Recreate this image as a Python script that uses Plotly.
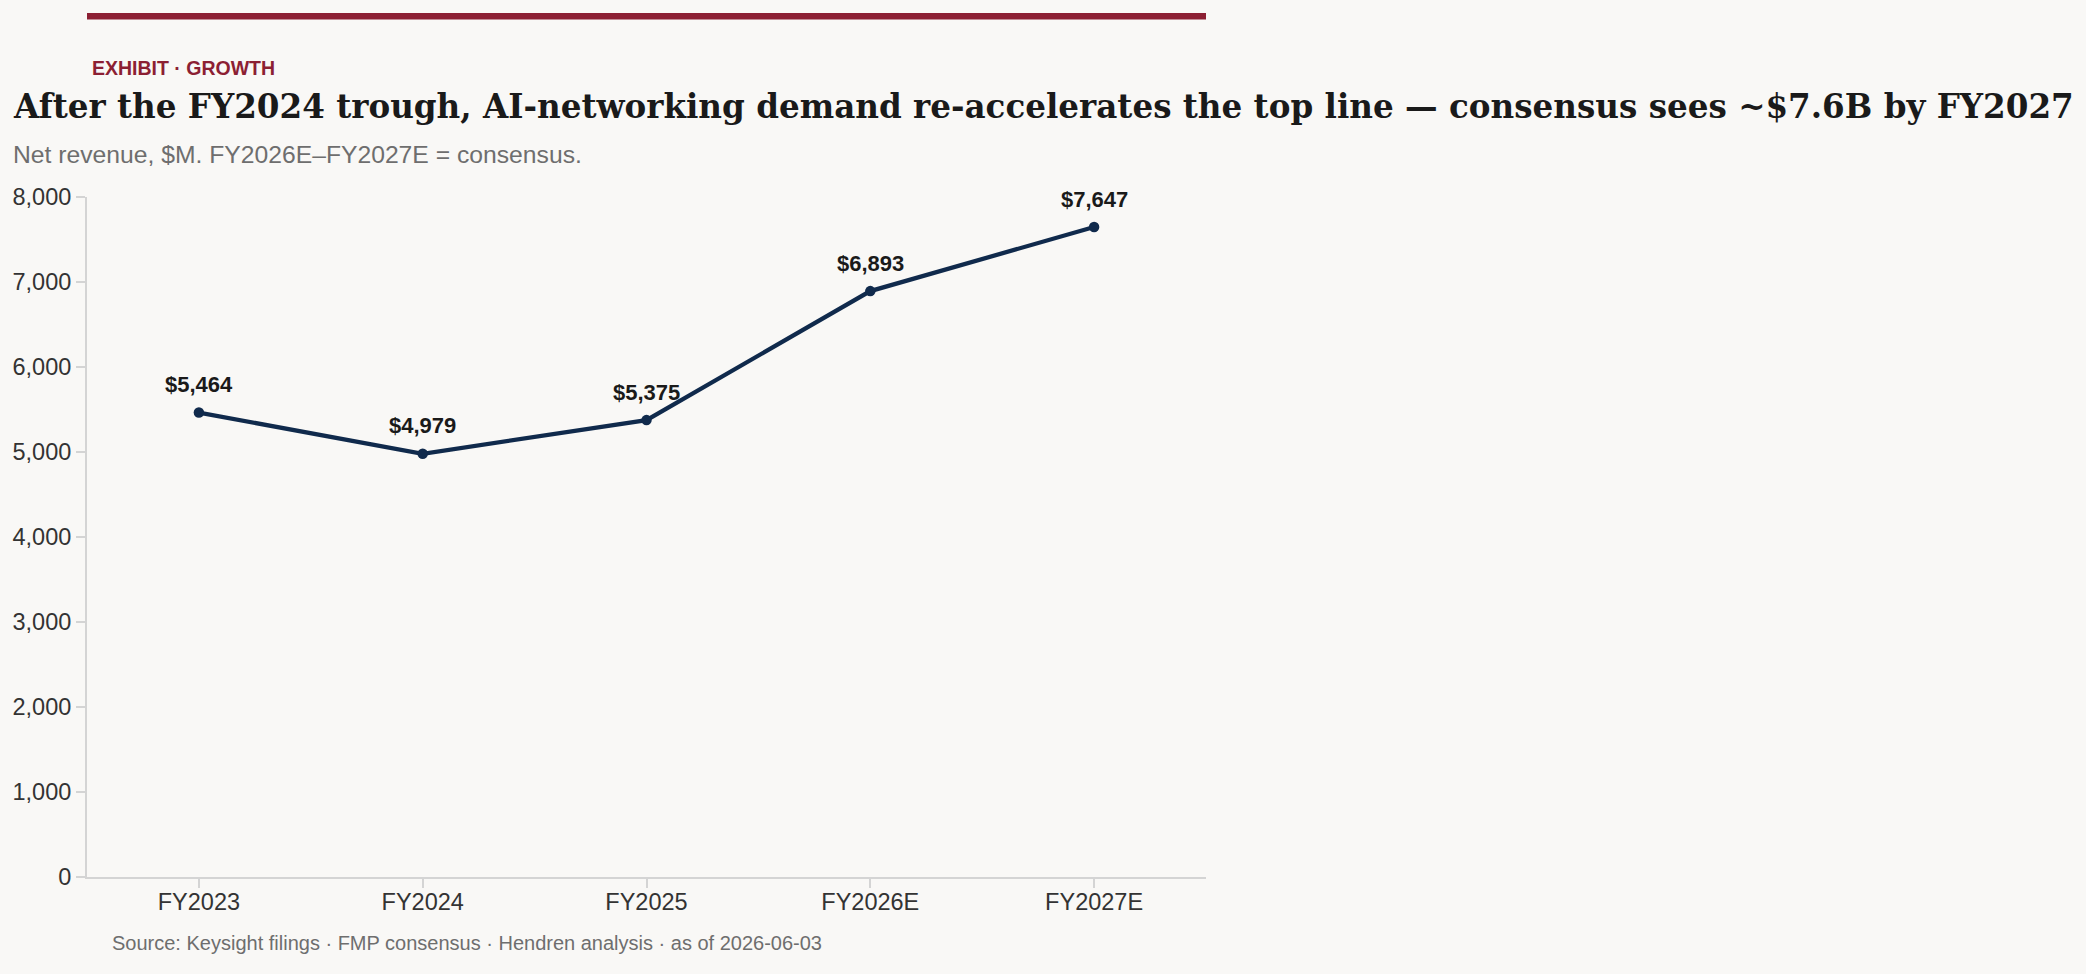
import plotly.graph_objects as go

categories = ["FY2023", "FY2024", "FY2025", "FY2026E", "FY2027E"]
revenue = [5464, 4979, 5375, 6893, 7647]
y_ticks = [0, 1000, 2000, 3000, 4000, 5000, 6000, 7000, 8000]

W, H = 2086, 974
ML, MR, MT, MB = 87, 880, 196.5, 97
PW = W - ML - MR
PH = H - MT - MB

def px(x):
    return (x - ML) / PW

def py(y):
    return (H - MB - y) / PH

SANS = "Liberation Sans, Arial, Helvetica, sans-serif"
SERIF = "DejaVu Serif, Georgia, serif"
NAVY = "#102a4c"
CRIMSON = "#8c1f33"
BG = "#f9f8f6"

fig = go.Figure()
fig.add_trace(go.Scatter(
    x=categories, y=revenue, mode="lines+markers",
    line=dict(color=NAVY, width=4.3),
    marker=dict(color=NAVY, size=10.5),
    hoverinfo="skip", showlegend=False,
))

annotations = []
for c, v in zip(categories, revenue):
    annotations.append(dict(
        x=c, y=v, xref="x", yref="y", text=f"${v:,}", showarrow=False,
        yanchor="middle", yshift=28,
        font=dict(family=SANS, size=22, color="#1a1a1a", weight="bold"),
    ))

annotations += [
    dict(xref="paper", yref="paper", x=px(90), y=py(67), xanchor="left", yanchor="middle",
         text="<b>EXHIBIT · GROWTH</b>", showarrow=False,
         font=dict(family=SANS, size=19.5, color=CRIMSON)),
    dict(xref="paper", yref="paper", x=px(11), y=py(106), xanchor="left", yanchor="middle",
         text="<b>After the FY2024 trough, AI-networking demand re-accelerates the top line — consensus sees ~$7.6B by FY2027</b>",
         showarrow=False, font=dict(family=SERIF, size=32.6, color="#1a1a1a")),
    dict(xref="paper", yref="paper", x=px(11), y=py(154), xanchor="left", yanchor="middle",
         text="Net revenue, $M. FY2026E–FY2027E = consensus.", showarrow=False,
         font=dict(family=SANS, size=24.7, color="#6e6e6e")),
    dict(xref="paper", yref="paper", x=px(110), y=py(943), xanchor="left", yanchor="middle",
         text="Source: Keysight filings · FMP consensus · Hendren analysis · as of 2026-06-03",
         showarrow=False, font=dict(family=SANS, size=20, color="#6e6e6e")),
]

fig.update_layout(
    width=W, height=H,
    margin=dict(l=ML, r=MR, t=MT, b=MB, pad=0),
    paper_bgcolor=BG, plot_bgcolor=BG,
    annotations=annotations,
    shapes=[dict(type="line", xref="paper", yref="paper", x0=0, x1=1,
                 y0=py(15.5), y1=py(15.5), line=dict(color=CRIMSON, width=6.5))],
    xaxis=dict(
        type="category", range=[-0.5, 4.5], showgrid=False, zeroline=False,
        showline=True, linecolor="#d4d4d4", linewidth=2,
        ticks="outside", ticklen=9, tickwidth=1.5, tickcolor="#d4d4d4",
        ticklabelstandoff=-6,
        tickfont=dict(family=SANS, size=23.5, color="#333333"),
    ),
    yaxis=dict(
        range=[0, 8000], tickvals=y_ticks, tickformat=",", showgrid=False, zeroline=False,
        showline=True, linecolor="#d4d4d4", linewidth=2,
        ticks="outside", ticklen=9, tickwidth=1.5, tickcolor="#d4d4d4",
        tickfont=dict(family=SANS, size=23.5, color="#333333"),
    ),
)

fig.write_html("out.html")
